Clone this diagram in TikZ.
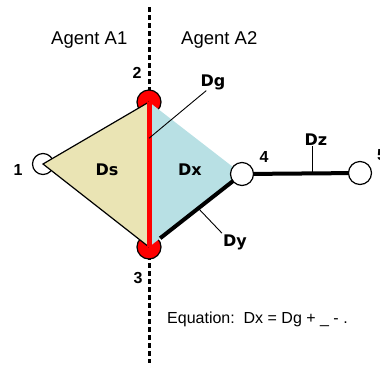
\documentclass[tikz,border=0pt]{standalone}
\usepackage{fontspec}
\setmainfont{Liberation Sans}
\newfontfamily\heavyfont{DejaVu Sans}
\usetikzlibrary{calc}
\definecolor{tanc}{RGB}{234,228,180}
\definecolor{cyanc}{RGB}{184,224,228}
\definecolor{redc}{RGB}{255,0,0}
\tikzset{
  divider/.style  = {line width=3pt, dash pattern=on 5pt off 3pt},
  redvtx/.style   = {circle, draw, line width=1.2pt, fill=redc, minimum size=24pt, inner sep=0pt},
  whitevtx/.style = {circle, draw, line width=1.2pt, fill=white, minimum size=23pt, inner sep=0pt},
  edgebold/.style = {line width=4pt},
  redline/.style  = {draw=redc, line width=5pt},
  pointer/.style  = {line width=0.9pt},
  dlbl/.style     = {font=\heavyfont\fontsize{16}{16}\selectfont\bfseries, inner sep=1pt, anchor=base},
  numlbl/.style   = {font=\fontsize{16}{16}\selectfont\bfseries, inner sep=1pt, anchor=base},
  agentlbl/.style = {font=\fontsize{18.5}{18.5}\selectfont, inner sep=0pt, anchor=base west},
  eqlbl/.style    = {font=\fontsize{16}{16}\selectfont, inner sep=0pt, anchor=base west},
}

\begin{document}
\begin{tikzpicture}[x=1pt, y=-1pt]
\useasboundingbox (0,0) rectangle (380,365);

% border between the two agents
\coordinate (top) at (149,7);
\coordinate (bot) at (149,363);
\draw[divider] (top) -- (bot);

\node[redvtx] (n2) at (149,102) {};
\node[redvtx] (n3) at (149,247) {};
\node[whitevtx, minimum size=21pt] (n1) at (43,164) {};
\coordinate (p4) at (242,174);

% the two halves
\fill[tanc] (n2.center) -- (n1.center) -- (n3.center) -- cycle;
\draw[line width=1.2pt] (n2.center) -- (n1.center) -- (n3.center);
\fill[cyanc] (n2.center) -- (p4) -- (n3.center) -- cycle;
\draw[redline] (n2.center) -- (n3.center);
\draw[edgebold] ($(n3)!0.12!(p4)$) -- (p4);

\node[whitevtx] (n4) at (p4) {};
\node[whitevtx] (n5) at (360,173) {};
\draw[edgebold] (n4) -- (n5);

% labels
\node[agentlbl] (a1) at (51,44) {Agent A1};
\node[agentlbl] (a2) at (181,44) {Agent A2};
\node[numlbl] (l1) at (18,175) {1};
\node[numlbl] (l2) at (137,78) {2};
\node[numlbl] (l3) at (138,283) {3};
\node[numlbl] (l4) at (264,162) {4};
\node[numlbl, anchor=base west] (l5) at (376,160) {5};
\node[dlbl] (ds) at (107,175) {Ds};
\node[dlbl] (dx) at (190,175) {Dx};
\node[dlbl] (dg) at (213,86) {Dg};
\node[dlbl] (dy) at (235,246) {Dy};
\node[dlbl] (dz) at (316,145) {Dz};
\node[eqlbl] (eq) at (167,323) {Equation:\ \ Dx = Dg + \_ - .};

\coordinate (dgp) at ($(n2)!0.25!(n3)$);
\coordinate (dyp) at ($(n3)!0.53!(p4)$);
\coordinate (dzp) at ($(n4)!0.6!(n5)$);
\draw[pointer] (dgp) -- ($(dg.south)!0.5!(dg.south west)$);
\draw[pointer] (dyp) -- (dy.north west);
\draw[pointer] (dzp) -- (dzp |- dz.south);

\end{tikzpicture}
\end{document}
